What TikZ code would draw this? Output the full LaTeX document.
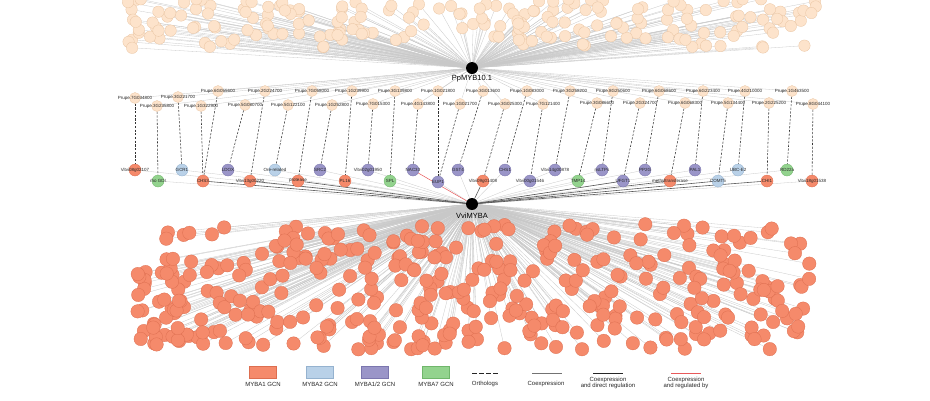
\documentclass[tikz,border=0pt]{standalone}
\usepackage{fontspec}
\setmainfont{Liberation Sans}
\usetikzlibrary{backgrounds}
\definecolor{peach}{HTML}{FDE3CB}
\definecolor{peachline}{HTML}{E9C4A2}
\definecolor{mybaone}{HTML}{F58A6B}
\definecolor{mybaoneline}{HTML}{DD6E50}
\definecolor{mybatwo}{HTML}{B9D1E8}
\definecolor{mybatwoline}{HTML}{95B2CF}
\definecolor{mybaboth}{HTML}{9A95C8}
\definecolor{mybabothline}{HTML}{7B76AE}
\definecolor{mybaseven}{HTML}{93D38E}
\definecolor{mybasevenline}{HTML}{70B66B}
\definecolor{edgegray}{HTML}{C8C8C8}
\definecolor{regred}{HTML}{E8595A}
\tikzset{
  hub/.style={circle, fill=black, minimum size=12pt, inner sep=0pt},
  pnode/.style={circle, fill=peach, draw=peachline, line width=0.3pt, minimum size=11pt, inner sep=0pt},
  cloudnode/.style={circle, fill=mybaone, draw=mybaoneline, line width=0.3pt, minimum size=13.5pt, inner sep=0pt},
  gA/.style={circle, fill=mybaone, draw=mybaoneline, line width=0.3pt, minimum size=12pt, inner sep=0pt},
  gB/.style={circle, fill=mybatwo, draw=mybatwoline, line width=0.3pt, minimum size=12pt, inner sep=0pt},
  gC/.style={circle, fill=mybaboth, draw=mybabothline, line width=0.3pt, minimum size=12pt, inner sep=0pt},
  gD/.style={circle, fill=mybaseven, draw=mybasevenline, line width=0.3pt, minimum size=12pt, inner sep=0pt},
  lbl/.style={font=\fontsize{4.5}{5}\selectfont, inner sep=0pt, text=black!85},
  hublbl/.style={font=\fontsize{7.5}{8}\selectfont, inner sep=0pt},
  lgd/.style={font=\fontsize{6}{6.8}\selectfont, inner sep=0pt, align=center, text=black!85},
  swatch/.style={rectangle, minimum width=27pt, minimum height=12pt, inner sep=0pt, line width=0.3pt},
  coex/.style={draw=edgegray, line width=0.3pt},
  direct/.style={draw=black!65, line width=0.6pt},
  regby/.style={draw=regred, line width=0.5pt},
  ortho/.style={draw=black!80, line width=0.55pt, dash pattern=on 2.2pt off 1.5pt},
}
\begin{document}
\begin{tikzpicture}[x=1pt,y=-1pt]
\useasboundingbox (0,0) rectangle (930,400);

% hubs
\node[hub] (ppmyb) at (472,68) {};
\node[hublbl] (ppmyblbl) at (472,79) {PpMYB10.1};
\node[hub] (vvmyba) at (472,204) {};
\node[hublbl] (vvmybalbl) at (472,215.5) {VviMYBA};

% top cloud
\pgfmathsetseed{11}
\foreach \i in {1,...,200}{
  \pgfmathsetmacro\rx{128+694*rnd}
  \pgfmathsetmacro\ry{-1+49*rnd}
  \node[pnode, minimum size=11.5pt] (t\i) at (\rx,\ry) {};
}
% bottom cloud
\pgfmathsetseed{23}
\foreach \i in {1,...,380}{
  \pgfmathsetmacro\rx{137+676*rnd}
  \pgfmathsetmacro\ry{224+126*rnd}
  \node[cloudnode] (b\i) at (\rx,\ry) {};
}

% Prupe nodes
\foreach \n/\x/\y/\lab in {
  p1/135/98/Prupe.7G034800, p2/178/97/Prupe.3G221700, p3/218/91/Prupe.6G055600,
  p4/265/91/Prupe.2G224700, p5/312/91/Prupe.7G058000, p6/352/91/Prupe.1G239900,
  p7/395/91/Prupe.3G139800, p8/438/91/Prupe.1G021800, p9/483/91/Prupe.3G013600,
  p10/527/91/Prupe.1G083000, p11/570/91/Prupe.3G258200, p12/613/91/Prupe.8G250600,
  p13/659/91/Prupe.6G068600, p14/703/91/Prupe.6G223400, p15/745/91/Prupe.4G210000,
  p16/792/91/Prupe.1G463500,
  p17/157/106/Prupe.3G235800, p18/201/106/Prupe.1G322900, p19/245/105/Prupe.5G080700,
  p20/288/105/Prupe.5G122100, p21/332/105/Prupe.1G252800, p22/373/104/Prupe.7G015300,
  p23/418/104/Prupe.4G143800, p24/460/104/Prupe.1G021700, p25/505/104/Prupe.3G025300,
  p26/543/104/Prupe.7G121400, p27/597/103/Prupe.3G086600, p28/640/103/Prupe.2G324700,
  p29/685/103/Prupe.6G068300, p30/728/103/Prupe.5G134400, p31/769/103/Prupe.2G225200,
  p32/813/104/Prupe.8G044100}{
  \node[pnode, label={[lbl]center:\lab}] (\n) at (\x,\y) {};
}

% grape nodes
\foreach \n/\x/\y/\s/\lab in {
  g1/135/170/gA/Vitvi08g02107, g2/158/181/gD/rho GDI, g3/182/170/gB/GCR1,
  g4/203/181/gA/CHS3, g5/228/170/gC/LDOX, g6/250/181/gA/Vitvi13g00220,
  g7/275/170/gB/Ore-related, g8/298/181/gA/protease, g9/320/170/gC/SRC2,
  g10/345/181/gA/PL16, g11/368/170/gC/Vitvi02g01950, g12/390/181/gD/SPL,
  g13/413/170/gC/NAC33, g14/438/182/gC/EUP1, g15/458/170/gC/GST4,
  g16/483/181/gA/Vitvi09g01408, g17/505/170/gC/CHS1, g18/530/181/gC/Vitvi00g01546,
  g19/555/170/gC/Vitvi14g00878, g20/578/181/gD/TMP14, g21/602/170/gC/nsLTPs,
  g22/623/181/gC/UFGT1, g23/645/170/gC/PP2G, g24/670/181/gA/methyltransferase,
  g25/695/170/gC/PAL1, g26/718/181/gB/COMT5, g27/738/170/gB/UBC-E2,
  g28/767/181/gA/CHI1, g29/787/170/gD/RD22a, g30/812/181/gA/Vitvi18g01538}{
  \node[\s, label={[lbl]center:\lab}] (\n) at (\x,\y) {};
}

% edges
\begin{scope}[on background layer]
  \foreach \i in {1,...,200} \draw[coex] (ppmyb) -- (t\i);
  \foreach \i in {1,...,380} \draw[coex] (vvmyba) -- (b\i);
  \foreach \i in {1,...,32} \draw[coex] (ppmyb) -- (p\i);
  \foreach \i in {1,2,3,5,7,9,10,11,12,14,15,17,19,20,21,23,25,27,29,30}
    \draw[coex] (vvmyba) -- (g\i);
  \foreach \i in {4,6,8,16,22,24,26,28}
    \draw[direct] (vvmyba) -- (g\i);
  \draw[regby] (vvmyba) -- (g13);
  \foreach \a/\b in {p1/g1, p17/g2, p2/g3, p18/g4, p3/g4, p19/g5, p4/g6, p20/g7,
    p5/g8, p21/g9, p6/g10, p22/g11, p7/g12, p23/g13, p8/g14, p24/g14, p9/g15,
    p25/g16, p10/g17, p26/g18, p11/g19, p27/g20, p12/g21, p28/g22, p13/g23,
    p29/g24, p14/g25, p30/g26, p15/g27, p31/g28, p16/g29, p32/g30}
    \draw[ortho] (\a) -- (\b);
\end{scope}

% legend
\node[swatch, fill=mybaone, draw=mybaoneline] (k1) at (263,372) {};
\node[lgd] (k1t) at (263,384) {MYBA1 GCN};
\node[swatch, fill=mybatwo, draw=mybatwoline] (k2) at (320,372) {};
\node[lgd] (k2t) at (320,384) {MYBA2 GCN};
\node[swatch, fill=mybaboth, draw=mybabothline] (k3) at (375,372) {};
\node[lgd] (k3t) at (375,384) {MYBA1/2 GCN};
\node[swatch, fill=mybaseven, draw=mybasevenline] (k4) at (436,372) {};
\node[lgd] (k4t) at (436,384) {MYBA7 GCN};
\coordinate (o1) at (472,373); \coordinate (o2) at (499,373);
\draw[draw=black!85, line width=0.7pt, dash pattern=on 5pt off 2pt] (o1) -- (o2);
\node[lgd] (k5t) at (485,384) {Orthologs};
\coordinate (c1) at (532,373); \coordinate (c2) at (562,373);
\draw[draw=black!55, line width=0.7pt] (c1) -- (c2);
\node[lgd] (k6t) at (546,384) {Coexpression};
\coordinate (d1) at (593,373); \coordinate (d2) at (623,373);
\draw[draw=black!85, line width=0.8pt] (d1) -- (d2);
\node[lgd] (k7t) at (608,383) {Coexpression\\and direct regulation};
\coordinate (r1) at (671,373); \coordinate (r2) at (701,373);
\draw[draw=regred, line width=0.7pt] (r1) -- (r2);
\node[lgd] (k8t) at (686,383) {Coexpression\\and regulated by};
\end{tikzpicture}
\end{document}
